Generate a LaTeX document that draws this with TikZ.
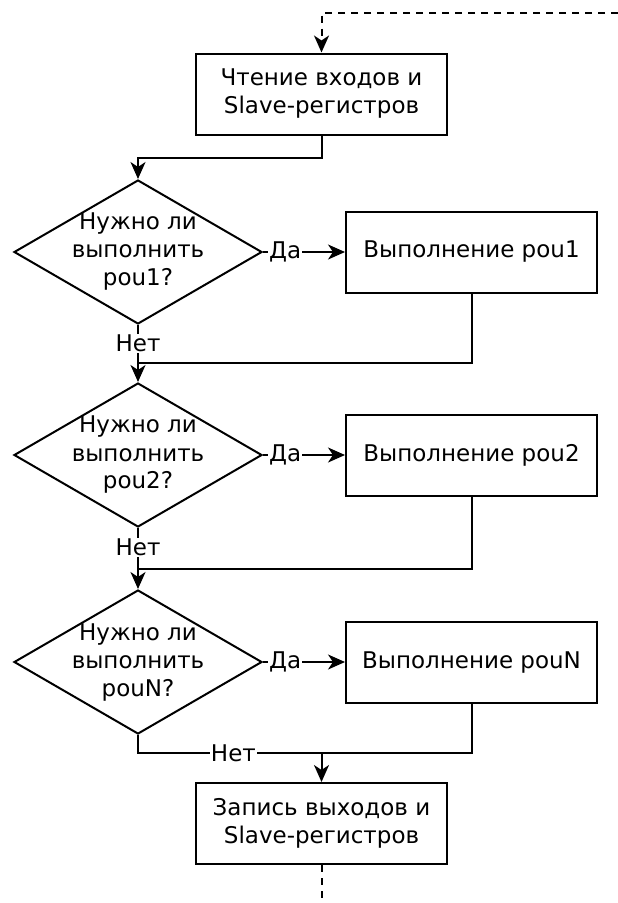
\documentclass[tikz,border=0pt]{standalone}
\usepackage{fontspec}
\setmainfont{DejaVu Sans}
\usetikzlibrary{shapes.geometric,arrows.meta}
\begin{document}
\begin{tikzpicture}[x=1pt,y=-1pt,line width=2pt,
  every node/.style={font=\fontsize{23}{28}\selectfont},
  blok/.style={draw,rectangle,minimum width=251pt,minimum height=81pt,align=center},
  vopros/.style={draw,diamond,aspect=1.72,inner sep=-5pt,minimum width=248pt,minimum height=144pt,align=center},
  metka/.style={fill=white,inner sep=1pt},
  strel/.style={-{Stealth[length=17pt,width=15pt,inset=5pt]}},
  strih/.style={dash pattern=on 7pt off 6pt}]
\useasboundingbox (0,0) rectangle (618,903);
\coordinate (vhod) at (618,13);
\node[blok] (chtenie) at (321.5,94) {Чтение входов и\\Slave-регистров};
\foreach \i/\y/\t in {1/252/pou1,2/455/pou2,3/662/pouN} {
  \node[vopros] (q\i) at (138,\y) {Нужно ли\\выполнить\\\t?};
  \node[blok] (pou\i) at (471.5,\y) {Выполнение \t};
  \draw[strel] (q\i.east) -- node[metka,pos=0.27]{Да} (pou\i.west);
}
\node[blok] (zapis) at (321.5,823.5) {Запись выходов и\\Slave-регистров};
\coordinate (vyhod) at (321.5,903);
\coordinate (s1) at (138,363);
\coordinate (s2) at (138,569);
\coordinate (s3) at (321.5,753);
% связи
\draw[strel,strih] (vhod) -| (chtenie.north);
\draw[strel] (chtenie.south) -- ++(0,22) -| (q1.north);
\draw[strel] (q1.south) -- node[metka,pos=0.32]{Нет} (q2.north);
\draw[strel] (q2.south) -- node[metka,pos=0.32]{Нет} (q3.north);
\draw (pou1.south) |- (s1);
\draw (pou2.south) |- (s2);
\draw (q3.south) |- node[metka,pos=0.76]{Нет} (s3);
\draw (pou3.south) |- (s3);
\draw[strel] (s3) -- (zapis.north);
\draw[strih] (zapis.south) -- (vyhod);
\end{tikzpicture}
\end{document}
